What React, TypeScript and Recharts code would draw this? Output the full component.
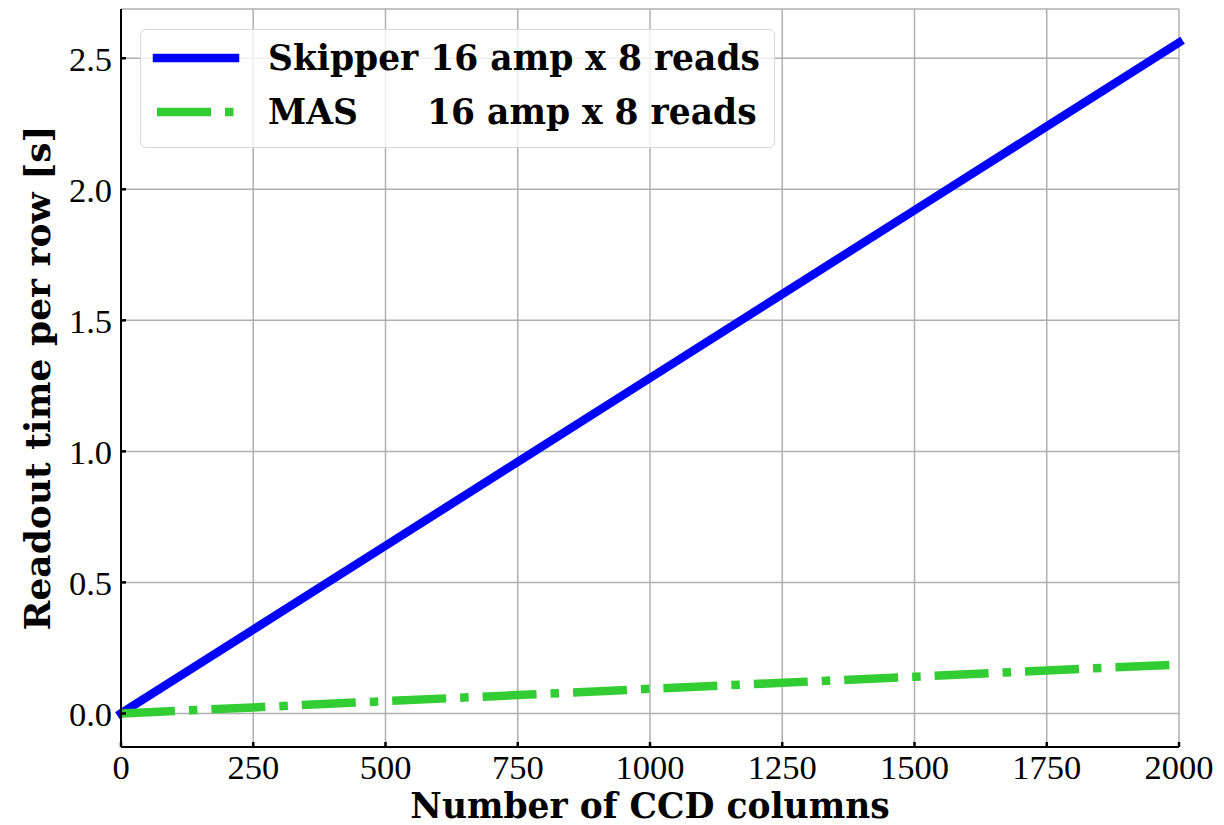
import { LineChart, Line, XAxis, YAxis, CartesianGrid, Legend } from 'recharts';

// CCD columns read out, and readout time per row [s]
const columns = [0, 250, 500, 750, 1000, 1250, 1500, 1750, 2000];
const skipperTime = [0, 0.32, 0.64, 0.96, 1.28, 1.6, 1.92, 2.24, 2.56];
const masTime = [0, 0.023, 0.047, 0.07, 0.094, 0.117, 0.14, 0.164, 0.187];

const xTicks = [0, 250, 500, 750, 1000, 1250, 1500, 1750, 2000];
const yTicks = [0, 0.5, 1, 1.5, 2, 2.5];

const legendNames = ['Skipper', 'MAS'];
const legendDetail = '16 amp x 8 reads';

const data = columns.map((c, i) => ({ columns: c, skipper: skipperTime[i], mas: masTime[i] }));

const BLUE = '#0000ff';
const GREEN = '#32cd32';
const DASH = '54 14 8.5 14';
const serif = '"Liberation Serif", "Times New Roman", serif';
const boldSerif = '"DejaVu Serif", serif';

const tickStyle = { fontFamily: serif, fontSize: 34.5, fill: '#000' };
const tickLine = { stroke: '#000', strokeWidth: 2.5 };
const axisLine = { stroke: '#000', strokeWidth: 2 };

const renderLegend = () => (
  <div
    style={{
      position: 'relative',
      width: 635,
      height: 119,
      boxSizing: 'border-box',
      border: '1.5px solid #d8d8d8',
      borderRadius: 6,
      background: 'rgba(255,255,255,0.8)',
      fontFamily: boldSerif,
      fontWeight: 'bold',
      fontSize: 34.5,
      color: '#000',
    }}
  >
    {legendNames.map((name, i) => {
      const cy = 28 + i * 54;
      const textStyle = { position: 'absolute' as const, top: cy, transform: 'translateY(-50%)', lineHeight: 1, whiteSpace: 'pre' as const };
      return (
        <div key={name}>
          <svg width={110} height={20} style={{ position: 'absolute', left: 0, top: cy - 10 }}>
            <line
              x1={16}
              x2={94}
              y1={10}
              y2={10}
              stroke={i === 0 ? BLUE : GREEN}
              strokeWidth={8.5}
              strokeLinecap={i === 0 ? 'square' : 'butt'}
              strokeDasharray={i === 0 ? undefined : DASH}
            />
          </svg>
          {i === 0 ? (
            <span style={{ ...textStyle, left: 127 }}>{`${name} ${legendDetail}`}</span>
          ) : (
            <>
              <span style={{ ...textStyle, left: 127 }}>{name}</span>
              <span style={{ ...textStyle, left: 286 }}>{legendDetail}</span>
            </>
          )}
        </div>
      );
    })}
  </div>
);

export default function App() {
  return (
    <div style={{ position: 'absolute', left: 0, top: 0, background: '#fff' }}>
      <LineChart width={1224} height={825} data={data} margin={{ top: 9, right: 45, bottom: 0, left: 0 }}>
        <CartesianGrid stroke="#b0b0b0" strokeWidth={1.5} />
        <XAxis
          dataKey="columns"
          type="number"
          domain={[0, 2000]}
          ticks={xTicks}
          height={78}
          tick={tickStyle}
          tickSize={-5}
          tickMargin={13}
          tickLine={tickLine}
          axisLine={axisLine}
          label={{
            value: 'Number of CCD columns',
            position: 'insideBottom',
            offset: 7,
            style: { fontFamily: boldSerif, fontWeight: 'bold', fontSize: 34.5, fill: '#000' },
          }}
        />
        <XAxis
          xAxisId="top"
          orientation="top"
          dataKey="columns"
          type="number"
          domain={[0, 2000]}
          ticks={xTicks}
          height={0}
          tick={false}
          tickSize={-5}
          tickLine={tickLine}
          axisLine={axisLine}
        />
        <YAxis
          type="number"
          domain={[-0.128, 2.688]}
          ticks={yTicks}
          width={121}
          tick={tickStyle}
          tickFormatter={(v: number) => v.toFixed(1)}
          tickSize={-5}
          tickMargin={14}
          tickLine={tickLine}
          axisLine={axisLine}
          allowDataOverflow
          label={{
            value: 'Readout time per row [s]',
            angle: -90,
            position: 'insideLeft',
            offset: 37,
            style: { textAnchor: 'middle', fontFamily: boldSerif, fontWeight: 'bold', fontSize: 36, fill: '#000' },
          }}
        />
        <YAxis
          yAxisId="right"
          orientation="right"
          type="number"
          domain={[-0.128, 2.688]}
          ticks={yTicks}
          width={0}
          tick={false}
          tickSize={-5}
          tickLine={tickLine}
          axisLine={axisLine}
          allowDataOverflow
        />
        <Line
          dataKey="skipper"
          stroke={BLUE}
          strokeWidth={8.5}
          strokeLinecap="square"
          dot={false}
          activeDot={false}
          isAnimationActive={false}
        />
        <Line
          dataKey="mas"
          stroke={GREEN}
          strokeWidth={8.5}
          strokeDasharray={DASH}
          strokeLinecap="butt"
          dot={false}
          activeDot={false}
          isAnimationActive={false}
        />
        <Legend
          layout="vertical"
          align="center"
          verticalAlign="middle"
          content={renderLegend}
          wrapperStyle={{ position: 'absolute', left: 140, top: 29, width: 635, height: 119 }}
        />
      </LineChart>
    </div>
  );
}
